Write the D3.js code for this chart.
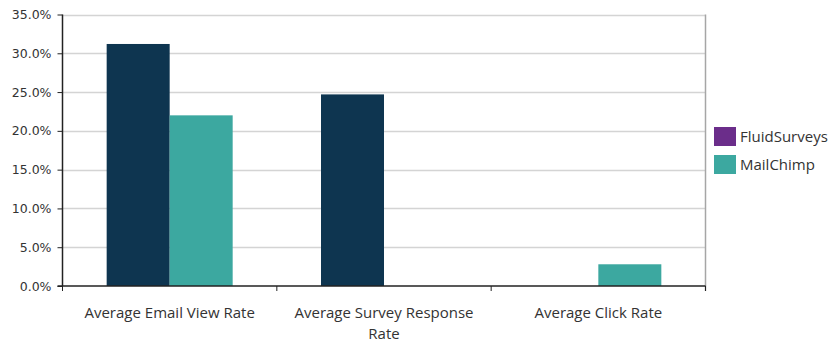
<!DOCTYPE html>
<html><head><meta charset="utf-8">
<script src="https://cdn.jsdelivr.net/npm/d3@7"></script>
<style>body{margin:0;background:#fff}svg{display:block}</style>
</head><body>
<svg id="c" width="836" height="342"></svg>
<script>
const categories = ["Average Email View Rate", "Average Survey Response Rate", "Average Click Rate"];
const seriesNames = ["FluidSurveys", "MailChimp"];
const fluidSurveys = [0.312, 0.247, 0];
const mailChimp = [0.220, 0, 0.028];
const yTicks = [0, 0.05, 0.10, 0.15, 0.20, 0.25, 0.30, 0.35];
const barColors = ["#0e3550", "#3ca8a0"];
const legendColors = ["#6b2d8a", "#3ca8a0"];

const svg = d3.select("#c");
const m = {l: 62.5, r: 705.5, t: 14.5, b: 286};
const x0 = d3.scaleBand().domain(categories).range([m.l, m.r]).paddingInner(0).paddingOuter(0);
const x1 = d3.scaleBand().domain(seriesNames).range([0, 126]);
const y = d3.scaleLinear().domain([0, 0.35]).range([m.b, m.t]);
const values = [fluidSurveys, mailChimp];
const FONT = "Open Sans, sans-serif";

// gridlines
svg.append("g").selectAll("line").data(yTicks.slice(1)).join("line")
  .attr("x1", m.l).attr("x2", m.r)
  .attr("y1", d => Math.round(y(d)) + 0.5).attr("y2", d => Math.round(y(d)) + 0.5)
  .attr("stroke", "#d4d4d4").attr("stroke-width", 1.5);
// right border
svg.append("line").attr("x1", m.r).attr("x2", m.r).attr("y1", m.t).attr("y2", m.b + 5)
  .attr("stroke", "#a6a6a6").attr("stroke-width", 1.5);

// bars
const off = (x0.bandwidth() - 126) / 2;
seriesNames.forEach((s, si) => {
  svg.append("g").selectAll("rect").data(categories).join("rect")
    .attr("x", c => x0(c) + off + x1(s))
    .attr("width", x1.bandwidth())
    .attr("y", (c, i) => y(values[si][i]))
    .attr("height", (c, i) => m.b - y(values[si][i]))
    .attr("fill", barColors[si]);
});

// y axis
const yAxis = svg.append("g").attr("transform", `translate(${m.l},0)`)
  .call(d3.axisLeft(y).tickValues(yTicks).tickFormat(d3.format(".1%")).tickSize(5).tickPadding(6));
yAxis.select(".domain").attr("stroke", "#222").attr("stroke-width", 1.5).attr("d", `M0,${m.t}V${m.b}`);
yAxis.selectAll(".tick line").attr("stroke", "#222");
yAxis.selectAll("text").attr("font-family", "DejaVu Sans, Verdana, sans-serif").attr("font-size", 12.5).attr("fill", "#333");

// x axis
const xAxis = svg.append("g").attr("transform", `translate(0,${m.b})`);
xAxis.append("line").attr("x1", m.l - 5).attr("x2", m.r).attr("y1", 0).attr("y2", 0).attr("stroke", "#222").attr("stroke-width", 1.5);
xAxis.selectAll(".tk").data([m.l, ...categories.map(c => x0(c) + x0.bandwidth())]).join("line")
  .attr("x1", d => d).attr("x2", d => d).attr("y1", 0).attr("y2", 5).attr("stroke", "#222");

function wrap(text, width) {
  const words = text.split(" ");
  const lines = []; let cur = [];
  const tmp = svg.append("text").attr("font-family", FONT).attr("font-size", 15);
  words.forEach(w => {
    const t = [...cur, w].join(" ");
    tmp.text(t);
    if (tmp.node().getComputedTextLength() > width && cur.length) { lines.push(cur.join(" ")); cur = [w]; }
    else cur.push(w);
  });
  lines.push(cur.join(" "));
  tmp.remove();
  return lines;
}
categories.forEach(c => {
  const lines = wrap(c, 200);
  const t = svg.append("text").attr("text-anchor", "middle")
    .attr("font-family", FONT).attr("font-size", 15).attr("fill", "#333");
  lines.forEach((l, i) => t.append("tspan").attr("x", x0(c) + x0.bandwidth() / 2).attr("y", 318 + i * 20.5).text(l));
});

// legend
const lg = svg.append("g");
seriesNames.forEach((s, i) => {
  lg.append("rect").attr("x", 714).attr("y", 127 + i * 28).attr("width", 22).attr("height", 19).attr("fill", legendColors[i]);
  lg.append("text").attr("x", 740).attr("y", 142 + i * 28).text(s)
    .attr("font-family", FONT).attr("font-size", 15).attr("fill", "#333");
});
</script>
</body></html>
